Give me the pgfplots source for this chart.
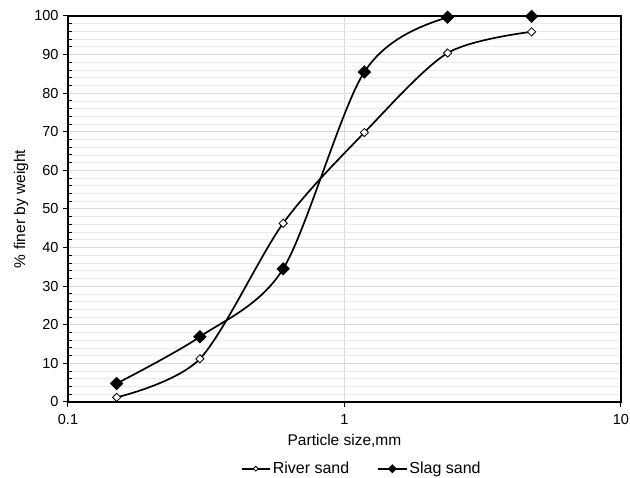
\documentclass[border=0pt]{standalone}
\usepackage{pgfplots}
\pgfplotsset{compat=1.18}
\usepackage{fontspec}
\setmainfont{Liberation Sans}
\begin{document}
\begin{tikzpicture}
\begin{axis}[
  scale only axis,
  width=553pt, height=386pt,
  xmode=log, log basis x=10,
  xmin=0.1, xmax=10, ymin=0, ymax=100,
  xtick={0.1,1,10}, xticklabels={0.1,1,10},
  ytick={0,10,...,100},
  minor y tick num=4,
  log ticks with fixed point,
  tick pos=left,
  tick align=outside,
  major tick length=5pt,
  minor tick length=-4pt,
  tick style={black, line width=1pt},
  grid=both,
  major grid style={draw=black!15, line width=1pt},
  minor grid style={draw=black!8, line width=0.8pt},
  axis line style={black, line width=1.4pt},
  font=\fontsize{15.5}{18}\selectfont,
  ticklabel style={font=\fontsize{14.5}{17}\selectfont},
  /pgf/number format/assume math mode=true,
  xticklabel style={yshift=-4pt},
  yticklabel style={xshift=-1pt},
  xlabel={Particle size,mm},
  ylabel={\% finer by weight},
  xlabel style={yshift=-3pt},
  ylabel style={yshift=-1pt},
  legend style={at={(0.531,-0.145)}, anchor=north, draw=none, fill=none,
    legend columns=2, font=\fontsize{16}{18}\selectfont,
    /tikz/every even column/.append style={column sep=26pt}},
  legend image code/.code={
    \draw[#1, every mark/.append style={scale=0.6}, mark repeat=2, mark phase=2] plot coordinates {(0cm,0cm) (0.5cm,0cm) (1cm,0cm)};
  },
]
\addplot[black, line width=1.7pt, smooth, tension=0.5,
  mark=square*, mark size=2.9pt,
  mark options={rotate=45, solid, fill=white, draw=black, line width=0.8pt}]
  coordinates {(0.15,1.2) (0.3,11.2) (0.6,46.3) (1.18,69.8) (2.36,90.4) (4.75,95.9)};
\addlegendentry{River sand}
\addplot[black, line width=1.7pt, smooth, tension=0.5,
  mark=square*, mark size=3.9pt,
  mark options={rotate=45, solid, fill=black, draw=black}]
  coordinates {(0.15,4.8) (0.3,16.9) (0.6,34.5) (1.18,85.5) (2.36,99.7) (4.75,99.9)};
\addlegendentry{Slag sand}
\end{axis}
\pgfresetboundingbox
\path (-68pt,-76pt) rectangle (562pt,402pt);
\end{tikzpicture}
\end{document}
